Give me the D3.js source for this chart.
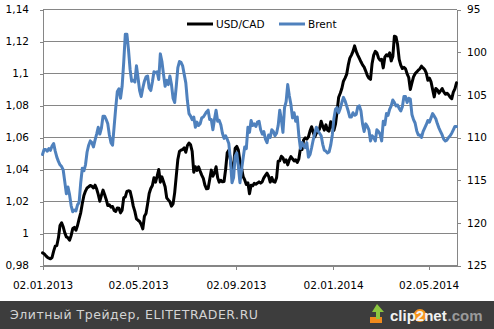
<!DOCTYPE html>
<html>
<head>
<meta charset="utf-8">
<script src="https://cdn.jsdelivr.net/npm/d3@7"></script>
<style>
  body { margin: 0; background: #fff; }
  svg { display: block; }
  text { font-family: "DejaVu Sans", Verdana, sans-serif; }
</style>
</head>
<body>
<svg id="chart" width="494" height="329"></svg>
<script>
// Sampling of both series: every second calendar day from the first date
const startDate = "2013-01-02";
const endDate = "2014-06-06";
const sampleStepDays = 2;

// USD/CAD exchange rate (left axis)
const usdcad = [
  0.9879,0.9873,0.9862,0.9852,0.9846,0.9842,0.9850,0.9890,0.9921,0.9925,0.9973,1.0050,1.0067,1.0042,1.0004,0.9979,0.9973,0.9958,0.9988,1.0031,
  1.0038,1.0021,1.0050,1.0092,1.0129,1.0188,1.0238,1.0265,1.0285,1.0292,1.0300,1.0296,1.0285,1.0302,1.0279,1.0244,1.0202,1.0238,1.0271,1.0244,
  1.0213,1.0175,1.0179,1.0165,1.0169,1.0144,1.0138,1.0160,1.0158,1.0129,1.0146,1.0223,
  1.0229,1.0263,1.0267,1.0265,1.0223,1.0171,1.0138,1.0092,1.0083,1.0075,1.0056,1.0029,1.0108,1.0125,1.0185,1.0250,1.0281,1.0300,1.0348,1.0321,
  1.0358,1.0400,1.0321,1.0354,1.0323,1.0292,1.0223,1.0210,1.0198,1.0171,1.0185,1.0254,1.0358,1.0463,1.0513,1.0521,1.0525,1.0535,1.0508,1.0550,
  1.0565,1.0554,1.0513,1.0383,1.0417,1.0394,1.0417,1.0390,1.0365,1.0344,1.0302,1.0279,1.0281,1.0338,
  1.0396,1.0358,1.0379,1.0417,1.0348,1.0321,1.0333,1.0323,1.0325,1.0400,1.0504,1.0521,1.0463,1.0390,1.0421,1.0533,1.0544,1.0521,1.0452,1.0410,
  1.0356,1.0335,1.0306,1.0317,1.0248,1.0302,1.0298,1.0313,1.0308,1.0315,1.0323,1.0315,1.0323,1.0348,1.0363,1.0377,1.0358,1.0321,1.0350,1.0325,
  1.0321,1.0348,1.0452,1.0454,1.0483,1.0473,1.0446,1.0460,1.0429,1.0460,1.0481,1.0467,
  1.0454,1.0460,1.0444,1.0467,1.0533,1.0525,1.0585,1.0598,1.0590,1.0604,1.0640,1.0667,1.0633,1.0604,1.0629,1.0635,1.0654,1.0702,1.0671,1.0646,
  1.0679,1.0646,1.0640,1.0698,1.0667,1.0644,1.0683,1.0763,1.0852,1.0877,1.0906,1.0952,1.0971,1.0994,1.1052,1.1096,1.1115,1.1138,1.1173,1.1138,
  1.1115,1.1094,1.1073,1.1054,1.1040,1.1015,1.0988,1.0971,1.0963,1.1063,1.1115,1.1138,1.1129,
  1.1098,1.1083,1.1088,1.1035,1.1102,1.1117,1.1110,1.1129,1.1079,1.1106,1.1233,1.1229,1.1181,1.1088,1.1052,1.1031,1.1038,1.1029,1.0998,1.0975,
  1.0900,1.0942,1.0979,1.0998,1.1010,1.1021,1.1029,1.1046,1.1035,1.1025,1.1004,1.0958,1.0971,1.0948,1.0900,1.0854,1.0906,1.0898,1.0877,1.0892,
  1.0906,1.0885,1.0871,1.0877,1.0867,1.0852,1.0842,1.0883,1.0904,1.0942
];

// Brent crude, USD per barrel (right axis, reversed)
const brent = [
  112.0,111.4,111.4,111.6,111.3,111.5,111.0,110.7,111.6,112.3,112.8,113.2,113.4,113.8,115.2,116.6,115.8,116.7,118.0,118.7,
  118.5,118.6,117.9,117.6,115.3,113.6,113.9,113.2,111.7,110.9,110.4,110.6,111.1,110.3,109.6,108.8,109.6,108.9,107.5,107.5,
  107.9,108.4,109.7,110.6,110.9,108.7,106.5,104.6,104.3,105.4,104.0,101.2,
  97.9,97.9,99.7,102.0,103.4,103.3,103.5,101.6,103.0,104.5,105.2,104.2,103.4,102.9,102.8,104.2,104.5,103.5,102.3,102.4,
  102.3,103.2,100.2,101.1,102.6,104.0,103.3,103.8,102.8,103.8,105.4,105.9,104.0,101.8,101.1,101.2,101.6,102.6,103.6,105.7,
  107.2,107.5,107.9,107.6,108.8,108.2,108.6,108.4,107.7,107.6,107.3,107.0,106.8,107.9,
  107.9,109.1,107.9,106.8,108.1,108.0,108.5,109.5,110.1,109.8,110.2,110.7,112.6,115.3,114.7,112.2,111.8,113.4,115.3,113.8,
  112.4,111.1,111.3,108.8,109.4,108.0,108.6,108.4,108.7,108.2,108.1,109.1,109.6,109.3,110.2,110.6,109.7,110.0,109.1,109.3,
  109.8,109.5,108.6,106.8,107.9,109.4,106.5,105.8,103.8,105.1,106.1,107.7,
  107.1,108.1,107.6,109.8,111.3,110.6,111.0,111.2,110.6,112.3,112.0,111.2,110.3,109.5,108.8,109.2,109.5,109.8,110.8,111.5,
  111.6,111.8,111.7,110.9,109.7,107.8,106.7,106.5,107.1,106.6,105.9,105.3,105.7,106.3,106.9,107.6,107.6,107.1,107.4,107.3,
  106.4,106.3,106.9,108.4,109.3,108.4,108.7,109.1,110.4,109.8,110.0,110.4,109.1,
  109.3,109.6,110.4,108.1,108.5,107.2,107.4,106.7,106.3,105.6,105.9,106.3,106.2,106.6,106.9,106.4,105.2,105.2,105.9,105.4,
  105.5,107.3,107.9,108.3,109.2,109.7,109.7,110.0,109.3,108.9,108.5,108.0,108.2,107.7,107.2,107.5,107.8,108.4,108.9,109.3,
  109.7,110.2,110.4,110.3,110.0,109.8,109.5,109.1,108.7,108.7
];

const leftTicks = [0.98, 1, 1.02, 1.04, 1.06, 1.08, 1.1, 1.12, 1.14];
const rightTicks = [95, 100, 105, 110, 115, 120, 125];
const dateTicks = ["2013-01-02", "2013-05-02", "2013-09-02", "2014-01-02", "2014-05-02"];
const seriesNames = ["USD/CAD", "Brent"];
const seriesColors = ["#000000", "#4F81BD"];
const footerText = "Элитный Трейдер, ELITETRADER.RU";

const W = 494, H = 329;
const plot = { left: 42.5, right: 456.5, top: 9.5, bottom: 265.5 };
const gridColor = "#868686";
const fontSize = "10.5px";

const svg = d3.select("#chart");
svg.append("rect").attr("width", W).attr("height", H).attr("fill", "#ffffff");

const parse = d3.utcParse("%Y-%m-%d");
const t0 = parse(startDate);
const dates = usdcad.map((_, i) => d3.utcDay.offset(t0, i * sampleStepDays));

const x = d3.scaleUtc().domain([t0, parse(endDate)]).range([plot.left, plot.right]);
const yL = d3.scaleLinear().domain([0.98, 1.14]).range([plot.bottom, plot.top]);
const yR = d3.scaleLinear().domain([95, 125]).range([plot.top, plot.bottom]);

// Horizontal gridlines at the left-axis ticks
svg.append("g").selectAll("line").data(leftTicks).join("line")
  .attr("x1", plot.left).attr("x2", plot.right)
  .attr("y1", d => Math.round(yL(d) - 0.5) + 0.5).attr("y2", d => Math.round(yL(d) - 0.5) + 0.5)
  .attr("stroke", gridColor).attr("stroke-width", 1).attr("shape-rendering", "crispEdges");

function styleAxis(g) {
  g.selectAll("path.domain").attr("stroke", gridColor).attr("shape-rendering", "crispEdges");
  g.selectAll(".tick line").attr("stroke", gridColor).attr("shape-rendering", "crispEdges");
  g.selectAll(".tick text").attr("fill", "#000").style("font-size", fontSize)
    .style("font-family", '"DejaVu Sans", Verdana, sans-serif');
}

const gL = svg.append("g").attr("transform", `translate(${plot.left},0)`)
  .call(d3.axisLeft(yL).tickValues(leftTicks).tickSize(3).tickSizeOuter(0).tickPadding(10.5)
    .tickFormat(d => String(d).replace(".", ",")));
styleAxis(gL);

const gR = svg.append("g").attr("transform", `translate(${plot.right},0)`)
  .call(d3.axisRight(yR).tickValues(rightTicks).tickSize(4).tickSizeOuter(0).tickPadding(6.5));
styleAxis(gR);

const gB = svg.append("g").attr("transform", `translate(0,${plot.bottom})`)
  .call(d3.axisBottom(x).tickValues(dateTicks.map(parse)).tickSize(4).tickSizeOuter(0).tickPadding(12)
    .tickFormat(d3.utcFormat("%d.%m.%Y")));
styleAxis(gB);

// Series lines: USD/CAD first, Brent drawn on top
const lineUsd = d3.line().x((d, i) => x(dates[i])).y(d => yL(d));
const lineBrent = d3.line().x((d, i) => x(dates[i])).y(d => yR(d));

svg.append("path").datum(usdcad).attr("d", lineUsd)
  .attr("fill", "none").attr("stroke", seriesColors[0]).attr("stroke-width", 3)
  .attr("stroke-linejoin", "round").attr("stroke-linecap", "round");
svg.append("path").datum(brent).attr("d", lineBrent)
  .attr("fill", "none").attr("stroke", seriesColors[1]).attr("stroke-width", 3)
  .attr("stroke-linejoin", "round").attr("stroke-linecap", "round");

// Legend
const legendItems = [
  { name: seriesNames[0], color: seriesColors[0], x: 187 },
  { name: seriesNames[1], color: seriesColors[1], x: 279 }
];
const lg = svg.append("g");
legendItems.forEach(it => {
  lg.append("line").attr("x1", it.x).attr("x2", it.x + 26).attr("y1", 24).attr("y2", 24)
    .attr("stroke", it.color).attr("stroke-width", 3);
  lg.append("text").attr("x", it.x + 29).attr("y", 28).text(it.name)
    .attr("fill", "#000").style("font-size", fontSize);
});

// Footer band
svg.append("rect").attr("x", 0).attr("y", 301).attr("width", W).attr("height", H - 301).attr("fill", "#3d3d3d");
svg.append("text").attr("x", 10).attr("y", 319).text(footerText)
  .attr("fill", "#d4d4d4").style("font-size", "12.5px")
  .attr("textLength", 248).attr("lengthAdjust", "spacing");

// clip2net mark: icon, orange disc behind the "2", then the wordmark
const logo = svg.append("g");
logo.append("rect").attr("x", 370).attr("y", 317).attr("width", 12).attr("height", 6).attr("fill", "#f08a1c");
logo.append("polygon").attr("points", "372,312 377,304 384,312 380,312 380,319 376,319 376,312")
  .attr("fill", "#8cc63f");
logo.append("circle").attr("cx", 420).attr("cy", 315.5).attr("r", 6.5).attr("fill", "#f7941d");

const logoFont = '"Liberation Sans", Arial, sans-serif';
logo.append("text").attr("x", 390).attr("y", 321).text("clip2net")
  .attr("fill", "#f2f2f2")
  .style("font-family", logoFont).style("font-size", "15px").style("font-weight", "bold");
logo.append("text").attr("x", 447.5).attr("y", 321).text(".com")
  .attr("fill", "#9a9a9a")
  .style("font-family", logoFont).style("font-size", "15px").style("font-weight", "bold");
</script>
</body>
</html>
